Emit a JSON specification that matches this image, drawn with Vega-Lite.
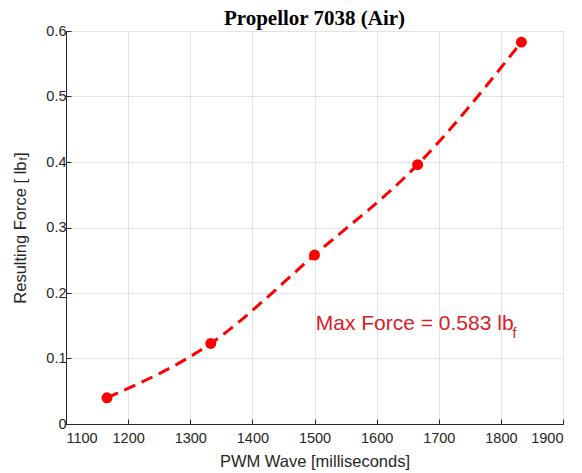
{
  "$schema": "https://vega.github.io/schema/vega-lite/v6.json",
  "width": 497,
  "height": 393,
  "autosize": {"type": "none"},
  "padding": {"left": 66, "top": 31, "right": 19, "bottom": 49},
  "background": "white",
  "title": {"text": "Propellor 7038 (Air)", "font": "Liberation Serif", "fontSize": 21, "fontWeight": "bold", "color": "#000000", "offset": -6},
  "config": {
    "view": {"stroke": "#262626", "strokeWidth": 1},
    "axis": {
      "domainColor": "#262626",
      "tickColor": "#262626",
      "gridColor": "#e3e3e3",
      "labelFont": "Liberation Sans",
      "labelFontSize": 14.5,
      "labelColor": "#262626",
      "titleFont": "Liberation Sans",
      "titleFontSize": 16.5,
      "titleFontWeight": "normal",
      "titleColor": "#262626",
      "tickSize": -5
    }
  },
  "datasets": {
    "pts": [
      {"pwm": 1166, "force": 0.04},
      {"pwm": 1333, "force": 0.123},
      {"pwm": 1500, "force": 0.258},
      {"pwm": 1666, "force": 0.396},
      {"pwm": 1833, "force": 0.583}
    ],
    "ann": [
      {"pwm": 1502, "force": 0.1435, "label": "Max Force = 0.583 lb"}
    ],
    "sub": [
      {"pwm": 1822, "force": 0.131, "label": "f"}
    ],
    "ysub": [
      {"pwm": 1032, "force": 0.4046, "label": "f"}
    ]
  },
  "layer": [
    {
      "data": {"name": "pts"},
      "mark": {"type": "line", "color": "#ff0000", "strokeWidth": 3, "strokeDash": [12, 7], "interpolate": "monotone"},
      "encoding": {
        "x": {"field": "pwm", "type": "quantitative", "scale": {"domain": [1100, 1900], "nice": false}, "axis": {"values": [1100, 1200, 1300, 1400, 1500, 1600, 1700, 1800, 1900], "format": "d", "title": "PWM Wave [milliseconds]", "labelPadding": 12, "titlePadding": 9}},
        "y": {"field": "force", "type": "quantitative", "scale": {"domain": [0, 0.6], "nice": false}, "axis": {"values": [0, 0.1, 0.2, 0.3, 0.4, 0.5, 0.6], "format": ".1~f", "title": "Resulting Force [ lb   ]", "labelPadding": 5, "titlePadding": 17}}
      }
    },
    {
      "data": {"name": "pts"},
      "mark": {"type": "point", "filled": true, "color": "#ff0000", "size": 120, "opacity": 1},
      "encoding": {
        "x": {"field": "pwm", "type": "quantitative"},
        "y": {"field": "force", "type": "quantitative"}
      }
    },
    {
      "data": {"name": "ann"},
      "mark": {"type": "text", "align": "left", "baseline": "alphabetic", "font": "Liberation Sans", "fontSize": 21, "color": "#d92027"},
      "encoding": {
        "x": {"field": "pwm", "type": "quantitative"},
        "y": {"field": "force", "type": "quantitative"},
        "text": {"field": "label"}
      }
    },
    {
      "data": {"name": "sub"},
      "mark": {"type": "text", "align": "center", "baseline": "alphabetic", "font": "Liberation Sans", "fontSize": 14, "color": "#d92027"},
      "encoding": {
        "x": {"field": "pwm", "type": "quantitative"},
        "y": {"field": "force", "type": "quantitative"},
        "text": {"field": "label"}
      }
    },
    {
      "data": {"name": "ysub"},
      "mark": {"type": "text", "align": "center", "baseline": "middle", "angle": 270, "font": "Liberation Sans", "fontSize": 11, "color": "#262626"},
      "encoding": {
        "x": {"field": "pwm", "type": "quantitative"},
        "y": {"field": "force", "type": "quantitative"},
        "text": {"field": "label"}
      }
    }
  ]
}
